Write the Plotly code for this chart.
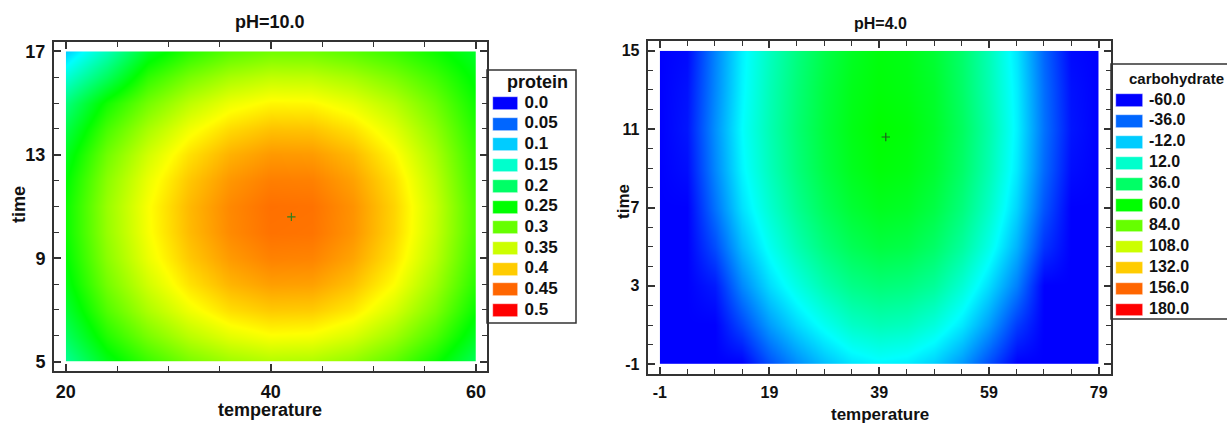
import colorsys
import plotly.graph_objects as go

# ---------------- protein surface (pH = 10.0) ----------------
protein_temperature = [20, 24, 28, 32, 36, 40, 44, 48, 52, 56, 60]
protein_time = [5, 6, 7, 8, 9, 10, 11, 12, 13, 14, 15, 16, 17]
protein = [
    [0.177, 0.238, 0.278, 0.309, 0.328, 0.338, 0.336, 0.322, 0.296, 0.257, 0.206],
    [0.203, 0.266, 0.309, 0.341, 0.362, 0.373, 0.371, 0.356, 0.328, 0.287, 0.232],
    [0.224, 0.290, 0.335, 0.368, 0.391, 0.401, 0.400, 0.385, 0.355, 0.312, 0.253],
    [0.240, 0.307, 0.353, 0.388, 0.411, 0.422, 0.421, 0.405, 0.375, 0.329, 0.269],
    [0.249, 0.318, 0.366, 0.401, 0.424, 0.436, 0.435, 0.419, 0.388, 0.341, 0.278],
    [0.255, 0.324, 0.372, 0.408, 0.432, 0.444, 0.443, 0.427, 0.395, 0.347, 0.284],
    [0.255, 0.325, 0.373, 0.409, 0.433, 0.445, 0.444, 0.428, 0.396, 0.348, 0.284],
    [0.248, 0.318, 0.366, 0.402, 0.426, 0.438, 0.437, 0.421, 0.390, 0.342, 0.279],
    [0.235, 0.305, 0.353, 0.389, 0.413, 0.425, 0.424, 0.409, 0.378, 0.333, 0.274],
    [0.215, 0.285, 0.333, 0.369, 0.393, 0.405, 0.404, 0.389, 0.361, 0.320, 0.266],
    [0.189, 0.259, 0.307, 0.343, 0.367, 0.379, 0.378, 0.364, 0.340, 0.304, 0.256],
    [0.145, 0.205, 0.273, 0.309, 0.333, 0.345, 0.344, 0.332, 0.311, 0.282, 0.244],
    [0.100, 0.160, 0.233, 0.269, 0.293, 0.305, 0.304, 0.293, 0.278, 0.256, 0.230],
]
protein_opt_temperature = [42.0]
protein_opt_time = [10.6]
protein_levels = [0.0, 0.05, 0.1, 0.15, 0.2, 0.25, 0.3, 0.35, 0.4, 0.45, 0.5]
protein_labels = ["0.0", "0.05", "0.1", "0.15", "0.2", "0.25", "0.3", "0.35", "0.4", "0.45", "0.5"]
protein_temp_ticks = [20, 40, 60]
protein_time_ticks = [5, 9, 13, 17]

# ---------------- carbohydrate surface (pH = 4.0) ----------------
carb_temperature = [-1, 4, 9, 14, 19, 24, 29, 34, 39, 44, 49, 54, 59, 64, 69, 74, 79]
carb_time = [-1, 1, 3, 5, 7, 9, 11, 13, 15]
carbohydrate = [
    [-60, -60, -60, -60, -41, -27, -15, -6, -2, -4, -11, -24, -42, -60, -60, -60, -60],
    [-60, -60, -60, -43, -23, -9, 3, 13, 17, 15, 8, -5, -23, -46, -60, -60, -60],
    [-60, -60, -54, -28, -8, 6, 19, 28, 32, 30, 24, 10, -8, -30, -60, -60, -60],
    [-60, -60, -42, -16, 3, 18, 31, 40, 45, 43, 36, 23, 5, -18, -48, -60, -60],
    [-60, -60, -33, -7, 11, 26, 39, 48, 53, 51, 44, 31, 13, -10, -40, -60, -60],
    [-60, -57, -28, -2, 16, 31, 44, 53, 58, 56, 49, 36, 18, -5, -35, -57, -60],
    [-60, -55, -26, 0, 18, 33, 46, 55, 60, 58, 51, 38, 20, -3, -33, -55, -60],
    [-60, -56, -28, -2, 17, 32, 45, 54, 58, 56, 50, 36, 18, -4, -34, -56, -60],
    [-60, -58, -29, -3, 15, 30, 43, 52, 57, 55, 48, 35, 17, -6, -36, -58, -60],
]
carb_opt_temperature = [40.2]
carb_opt_time = [10.6]
carb_levels = [-60, -36, -12, 12, 36, 60, 84, 108, 132, 156, 180]
carb_labels = ["-60.0", "-36.0", "-12.0", "12.0", "36.0", "60.0", "84.0",
               "108.0", "132.0", "156.0", "180.0"]
carb_temp_ticks = [-1, 19, 39, 59, 79]
carb_time_ticks = [-1, 3, 7, 11, 15]

# ---------------- styling helpers ----------------
W, H = 1227, 423


def xdom(left, right):
    return [left / W, min(right / W, 1.0)]


def ydom(top, bottom):
    return [1 - bottom / H, 1 - top / H]


def hue_color(frac):
    """Rainbow from blue (frac 0) to red (frac 1) by sweeping HSV hue."""
    frac = min(max(frac, 0.0), 1.0)
    r, g, b = colorsys.hsv_to_rgb((1 - frac) * 240 / 360, 1, 1)
    return "rgb(%d,%d,%d)" % (round(r * 255), round(g * 255), round(b * 255))


rainbow = [[i / 60, hue_color(i / 60)] for i in range(61)]

FONT = "Liberation Sans, Arial, sans-serif"
INK = "#111111"
FRAME = "#333333"

fig = go.Figure()

# heat surfaces
fig.add_trace(go.Contour(
    x=protein_temperature, y=protein_time, z=protein,
    colorscale=rainbow, zauto=False, zmin=protein_levels[0], zmax=protein_levels[-1],
    contours=dict(coloring="heatmap", showlines=False), line=dict(width=0),
    showscale=False, hoverinfo="skip", xaxis="x", yaxis="y"))
fig.add_trace(go.Scatter(
    x=protein_opt_temperature, y=protein_opt_time, mode="markers",
    marker=dict(symbol="cross-thin", size=6, line=dict(width=1.2, color="#2f7f1f")),
    showlegend=False, hoverinfo="skip", xaxis="x", yaxis="y"))

fig.add_trace(go.Contour(
    x=carb_temperature, y=carb_time, z=carbohydrate,
    colorscale=rainbow, zauto=False, zmin=carb_levels[0], zmax=carb_levels[-1],
    contours=dict(coloring="heatmap", showlines=False), line=dict(width=0),
    showscale=False, hoverinfo="skip", xaxis="x2", yaxis="y2"))
fig.add_trace(go.Scatter(
    x=carb_opt_temperature, y=carb_opt_time, mode="markers",
    marker=dict(symbol="cross-thin", size=6, line=dict(width=1.2, color="#1f5f1f")),
    showlegend=False, hoverinfo="skip", xaxis="x2", yaxis="y2"))


# level keys drawn as swatch bars with value labels
def add_key(levels, labels, xa, ya, row0, row_step, sw_x0, sw_x1, sw_h, lab_x, size):
    lo, hi = levels[0], levels[-1]
    rows = [row0 + row_step * i for i in range(len(levels))]
    colors = [hue_color((v - lo) / (hi - lo)) for v in levels]
    fig.add_trace(go.Bar(
        orientation="h", y=rows, x=[sw_x1 - sw_x0] * len(levels), base=sw_x0,
        width=sw_h, marker=dict(color=colors, line=dict(width=0.6, color="rgba(255,255,255,0.8)")),
        showlegend=False, hoverinfo="skip", xaxis=xa, yaxis=ya))
    fig.add_trace(go.Scatter(
        x=[lab_x] * len(levels), y=rows, mode="text", text=labels,
        textposition="middle right",
        textfont=dict(family=FONT, size=size, color=INK, weight="bold"),
        showlegend=False, hoverinfo="skip", xaxis=xa, yaxis=ya))


add_key(protein_levels, protein_labels, "x3", "y3", 33.5, 20.7, 5.7, 31.3, 13, 37.5, 17)
add_key(carb_levels, carb_labels, "x4", "y4", 36.5, 20.95, 5, 32.3, 12.5, 38.0, 16)


def heat_axis(domain, rng, ticks, minor_dtick, size):
    return dict(
        domain=domain, range=rng, showgrid=False, zeroline=False,
        showline=True, linecolor=FRAME, linewidth=2, mirror="ticks",
        ticks="inside", ticklen=7, tickwidth=1.5, tickcolor=FRAME,
        tickmode="array", tickvals=ticks, ticktext=[str(t) for t in ticks],
        minor=dict(tickmode="linear", tick0=ticks[0], dtick=minor_dtick,
                   ticks="inside", ticklen=5, tickwidth=1.2, tickcolor=FRAME),
        tickfont=dict(family=FONT, size=size, color=INK, weight="bold"),
        ticklabelstandoff=3,
    )


def key_axis(domain, rng):
    return dict(domain=domain, range=rng, visible=False, fixedrange=True)


layout = dict(
    width=W, height=H, margin=dict(l=0, r=0, t=0, b=0),
    paper_bgcolor="white", plot_bgcolor="white", showlegend=False, bargap=0,
    xaxis=dict(anchor="y", **heat_axis(xdom(54, 486.7), [18.85, 61.05], protein_temp_ticks, 5, 18)),
    yaxis=dict(anchor="x", **heat_axis(ydom(42, 371), [4.64, 17.36], protein_time_ticks, 1, 18)),
    xaxis2=dict(anchor="y2", **heat_axis(xdom(647.7, 1110.7), [-3.2, 81.2], carb_temp_ticks, 5, 16)),
    yaxis2=dict(anchor="x2", **heat_axis(ydom(41, 374), [-1.5, 15.5], carb_time_ticks, 1, 16)),
    xaxis3=dict(anchor="y3", **key_axis(xdom(487, 576), [0, 89])),
    yaxis3=dict(anchor="x3", **key_axis(ydom(70, 323), [253, 0])),
    xaxis4=dict(anchor="y4", **key_axis(xdom(1111, 1227), [0, 116])),
    yaxis4=dict(anchor="x4", **key_axis(ydom(64, 319), [255, 0])),
)
fig.update_layout(**layout)

# key frames
fig.add_shape(type="rect", xref="paper", yref="paper",
              x0=487 / W, x1=576 / W, y0=1 - 323 / H, y1=1 - 70 / H,
              line=dict(color=FRAME, width=1.5))
fig.add_shape(type="rect", xref="paper", yref="paper",
              x0=1111 / W, x1=1.05, y0=1 - 319 / H, y1=1 - 64 / H,
              line=dict(color=FRAME, width=1.5))


def text(x, y, s, size=18, angle=0, xanchor="center"):
    fig.add_annotation(x=x / W, y=1 - y / H, xref="paper", yref="paper", text=s,
                       showarrow=False, textangle=angle, xanchor=xanchor, yanchor="middle",
                       font=dict(family=FONT, size=size, color=INK, weight="bold"))


text(270, 22, "pH=10.0", 18)
text(270, 410, "temperature", 18)
text(19, 205, "time", 18, angle=-90)
text(537.5, 82, "protein", 18)

text(880, 24, "pH=4.0", 16)
text(880, 414, "temperature", 17)
text(623, 201, "time", 17, angle=-90)
text(1127, 79, "carbohydrate", 15, xanchor="left")

fig.write_html("out.html")
